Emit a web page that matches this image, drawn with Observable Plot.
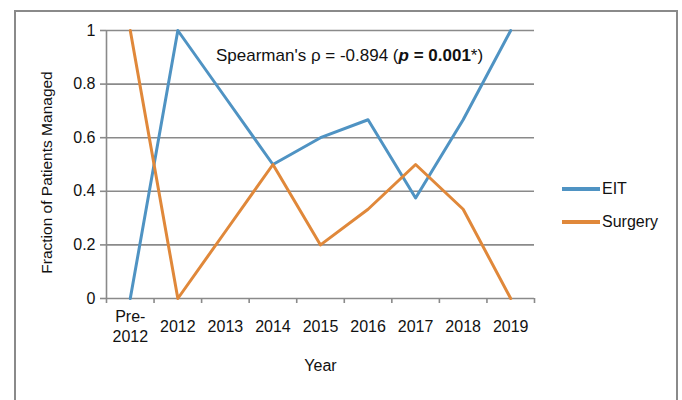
<!DOCTYPE html>
<html>
<head>
<meta charset="utf-8">
<script src="https://cdn.jsdelivr.net/npm/d3@7"></script>
<script src="https://cdn.jsdelivr.net/npm/@observablehq/plot@0.6"></script>
<style>
  html, body { margin: 0; padding: 0; background: #fff; }
  #wrap { position: relative; width: 682px; height: 400px; overflow: hidden; font-family: "Liberation Sans", Arial, sans-serif; }
  #frame { position: absolute; left: 14px; top: 10px; width: 664px; height: 420px; border: 2px solid #8a8a8a; box-sizing: border-box; }
  #chart { position: absolute; left: 0; top: 0; }
  #chart svg text { font-size: 16px; }
  #chart svg text.ylab { font-size: 15.5px; }
  #note { position: absolute; left: 216px; top: 46px; font-size: 17px; color: #111; white-space: nowrap; }
  .leg { position: absolute; left: 562px; font-size: 16px; color: #111; display: flex; align-items: center; }
  .leg span.sw { display: inline-block; width: 38px; height: 3.5px; margin-right: 2px; }
</style>
</head>
<body>
<div id="wrap">
  <div id="frame"></div>
  <div id="chart"></div>
  <div id="note">Spearman's ρ = -0.894 (<b><i>p</i> = 0.001</b>*)</div>
  <div class="leg" style="top:180px"><span class="sw" style="background:#4f93c3"></span>EIT</div>
  <div class="leg" style="top:213px"><span class="sw" style="background:#e0883a"></span>Surgery</div>
</div>
<script>
const categories = ["Pre-\n2012", "2012", "2013", "2014", "2015", "2016", "2017", "2018", "2019"];
const eit = [0, 1, 0.75, 0.5, 0.6, 0.667, 0.375, 0.667, 1];
const surgery = [1, 0, 0.25, 0.5, 0.2, 0.333, 0.5, 0.333, 0];
const yTicks = [0, 0.2, 0.4, 0.6, 0.8, 1];

const idx = categories.map((_, i) => i);
const bounds = d3.range(-0.5, categories.length, 1);
const eitData = idx.map(i => ({i, v: eit[i]}));
const surgData = idx.map(i => ({i, v: surgery[i]}));

const chart = Plot.plot({
  width: 682,
  height: 400,
  marginLeft: 106,
  marginRight: 148,
  marginTop: 30,
  marginBottom: 102,
  style: { fontFamily: "'Liberation Sans', Arial, sans-serif", fontSize: "16px", color: "#111", background: "transparent" },
  x: { type: "linear", domain: [-0.5, categories.length - 0.5] },
  y: { domain: [0, 1] },
  marks: [
    Plot.ruleY(yTicks.filter(d => d > 0), { stroke: "#8a8a8a", strokeWidth: 1.6 }),
    Plot.ruleY([0], { stroke: "#8a8a8a", strokeWidth: 1.6 }),
    Plot.ruleX([-0.5], { stroke: "#8a8a8a", strokeWidth: 1.6 }),
    Plot.axisY({ ticks: yTicks, tickSize: 6, tickPadding: 5, tickFormat: d => String(d), stroke: "#8a8a8a", strokeWidth: 1.6, label: null }),
    Plot.axisX({ ticks: bounds, tickSize: 5, tickFormat: () => "", stroke: "#8a8a8a", strokeWidth: 1.6, label: null }),
    Plot.axisX({ ticks: idx, tickSize: 0, tickPadding: 27, lineAnchor: "middle", lineHeight: 1.25, tickFormat: i => categories[i], label: null }),
    Plot.text(["Fraction of Patients Managed"], { frameAnchor: "left", textAnchor: "middle", dx: -59, dy: 8, rotate: -90, fill: "#111", className: "ylab" }),
    Plot.text(["Year"], { frameAnchor: "bottom", dy: 72, fill: "#111" }),
    Plot.line(eitData, { x: "i", y: "v", stroke: "#4f93c3", strokeWidth: 3, strokeLinejoin: "round" }),
    Plot.line(surgData, { x: "i", y: "v", stroke: "#e0883a", strokeWidth: 3, strokeLinejoin: "round" })
  ]
});
chart.querySelectorAll("g[aria-label='text'] text").forEach(t => {
  if (t.textContent === "Fraction of Patients Managed") t.classList.add("ylab");
});
document.getElementById("chart").appendChild(chart);
</script>
</body>
</html>
